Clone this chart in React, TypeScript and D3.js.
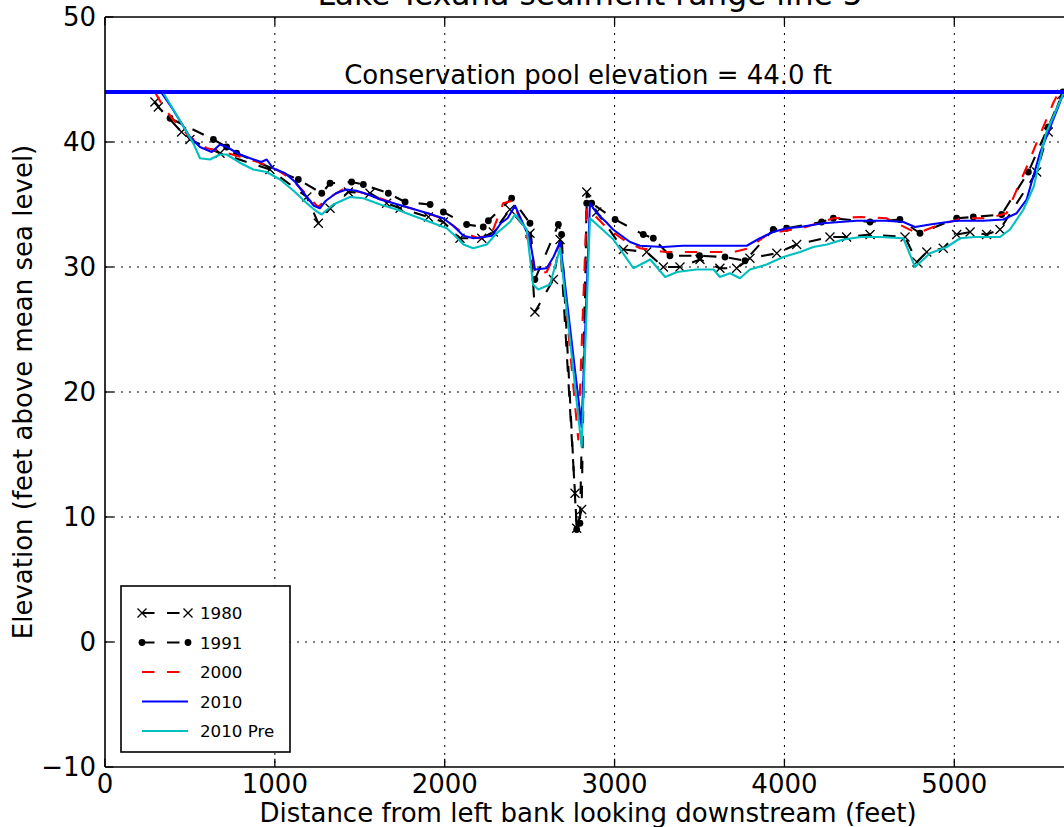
import React from "react";
import * as d3 from "d3";

type Pt = [number, number];

const titleText = "Lake Texana sediment range line 5";
const xLabel = "Distance from left bank looking downstream (feet)";
const yLabel = "Elevation (feet above mean sea level)";
const poolElevation = 44.0;
const poolLabel = "Conservation pool elevation = 44.0 ft";

const xTicks = [0, 1000, 2000, 3000, 4000, 5000];
const yTicks = [-10, 0, 10, 20, 30, 40, 50];

const survey1980: Pt[] = [
  [294, 43.2], [314, 42.8], [451, 40.8], [500, 40.2], [677, 39.1], [971, 37.8], [1188, 35.6],
  [1256, 33.5], [1325, 34.7], [1433, 36.0], [1560, 35.9], [1658, 35.1], [1737, 34.7], [1904, 34.0],
  [1992, 33.6], [2090, 32.3], [2218, 32.3], [2286, 32.8], [2384, 34.6], [2502, 32.7], [2531, 26.4],
  [2640, 29.0], [2679, 32.2], [2767, 11.9], [2777, 9.1], [2806, 10.6], [2836, 36.0], [2895, 34.4],
  [3052, 31.4], [3189, 31.2], [3287, 30.0], [3385, 30.0], [3503, 30.6], [3620, 29.9], [3719, 29.9],
  [3797, 30.7], [3955, 31.1], [4072, 31.8], [4268, 32.4], [4366, 32.4], [4504, 32.6], [4710, 32.4],
  [4780, 30.4], [4838, 31.2], [4935, 31.5], [5014, 32.6], [5093, 32.8], [5190, 32.6], [5269, 33.0],
  [5485, 37.6], [5553, 40.8], [5632, 43.8],
];

const survey1991: Pt[] = [
  [383, 41.9], [638, 40.2], [716, 39.6], [775, 39.1], [1138, 37.0], [1276, 35.9], [1325, 36.7],
  [1452, 36.8], [1521, 36.6], [1668, 35.9], [1767, 35.2], [1914, 35.0], [1992, 34.4], [2129, 33.4],
  [2227, 33.2], [2257, 33.7], [2394, 35.5], [2502, 33.5], [2531, 29.0], [2669, 33.4], [2688, 32.6],
  [2777, 9.0], [2796, 9.5], [2836, 35.1], [2865, 35.1], [3003, 33.8], [3169, 32.6], [3228, 32.3],
  [3326, 30.9], [3500, 30.9], [3650, 30.8], [3768, 30.5], [3934, 33.0], [4013, 33.1], [4219, 33.6],
  [4288, 33.9], [4504, 33.6], [4680, 33.8], [4798, 32.7], [5014, 33.9], [5112, 34.0], [5279, 34.2],
  [5436, 37.6], [5553, 41.2], [5640, 44.0],
];

const survey2000: Pt[] = [
  [294, 44.0], [340, 42.9], [400, 41.8], [500, 40.4], [600, 39.5], [700, 39.2], [800, 38.8],
  [900, 38.4], [1000, 37.9], [1100, 37.0], [1200, 35.6], [1255, 34.8], [1300, 35.4], [1400, 36.2],
  [1500, 36.0], [1600, 35.6], [1700, 35.1], [1800, 34.7], [1900, 34.3], [2000, 33.8], [2100, 32.8],
  [2200, 32.3], [2280, 32.8], [2344, 35.1], [2400, 35.3], [2450, 33.6], [2500, 31.8], [2535, 29.4],
  [2600, 29.6], [2680, 31.9], [2786, 16.2], [2836, 34.7], [2870, 34.3], [2950, 33.2], [3050, 32.2],
  [3150, 31.5], [3300, 31.2], [3500, 31.2], [3700, 31.2], [3790, 31.5], [3900, 32.6], [4000, 32.9],
  [4100, 33.1], [4288, 33.9], [4450, 34.0], [4600, 33.9], [4661, 33.5], [4780, 32.7], [4916, 33.4],
  [5053, 33.9], [5200, 33.9], [5308, 34.3], [5426, 38.0], [5582, 43.1], [5615, 44.0],
];

const survey2010: Pt[] = [
  [330, 44.0], [400, 42.6], [500, 40.4], [559, 39.6], [628, 39.2], [677, 39.8], [716, 39.6],
  [795, 39.0], [854, 38.7], [920, 38.4], [952, 38.6], [989, 37.9], [1060, 37.5], [1120, 36.8],
  [1188, 35.6], [1230, 34.9], [1265, 34.7], [1300, 35.3], [1360, 35.9], [1420, 36.2], [1480, 36.1],
  [1550, 35.8], [1620, 35.4], [1700, 35.1], [1800, 34.7], [1900, 34.3], [1990, 33.9], [2050, 33.3],
  [2110, 32.5], [2170, 32.3], [2230, 32.4], [2280, 32.5], [2330, 33.5], [2370, 33.9], [2414, 34.9],
  [2450, 33.8], [2500, 32.3], [2531, 29.8], [2600, 29.9], [2640, 30.8], [2679, 32.0], [2806, 17.2],
  [2855, 35.1], [2895, 34.3], [2950, 33.6], [2991, 33.0], [3091, 32.0], [3150, 31.7], [3286, 31.6],
  [3400, 31.7], [3580, 31.7], [3778, 31.7], [3856, 32.3], [3933, 32.8], [4013, 33.1], [4092, 33.2],
  [4227, 33.5], [4425, 33.7], [4600, 33.7], [4700, 33.6], [4769, 33.2], [4857, 33.4], [5014, 33.7],
  [5171, 33.7], [5288, 33.8], [5367, 34.3], [5426, 35.4], [5504, 39.1], [5646, 44.0],
];

const survey2010Pre: Pt[] = [
  [340, 44.0], [420, 42.2], [520, 39.9], [559, 38.7], [618, 38.6], [677, 39.0], [716, 39.0],
  [800, 38.3], [873, 37.8], [952, 37.6], [1030, 37.0], [1110, 36.1], [1188, 35.1], [1240, 34.5],
  [1276, 34.2], [1300, 34.5], [1344, 35.0], [1442, 35.6], [1521, 35.5], [1620, 35.0], [1717, 34.6],
  [1814, 34.1], [1914, 33.6], [2012, 33.1], [2060, 32.5], [2110, 31.8], [2168, 31.5], [2247, 31.8],
  [2306, 32.7], [2384, 33.6], [2414, 34.2], [2483, 33.0], [2520, 28.6], [2550, 28.2], [2620, 28.6],
  [2679, 31.5], [2806, 15.6], [2855, 33.9], [2993, 32.2], [3111, 29.9], [3210, 30.6], [3298, 29.2],
  [3368, 29.6], [3480, 29.8], [3583, 29.8], [3620, 29.2], [3680, 29.5], [3738, 29.1], [3797, 29.8],
  [3895, 30.2], [3993, 30.8], [4092, 31.2], [4170, 31.6], [4250, 31.8], [4347, 32.2], [4450, 32.4],
  [4564, 32.4], [4700, 32.3], [4769, 30.0], [4857, 31.1], [4956, 31.6], [5035, 32.3], [5120, 32.4],
  [5210, 32.4], [5269, 32.4], [5328, 33.0], [5407, 34.6], [5467, 36.4], [5540, 40.7], [5646, 44.0],
];

type Series = { name: string; data: Pt[]; color: string; dash?: string; marker?: "x" | "dot" };

const seriesList: Series[] = [
  { name: "1980", data: survey1980, color: "#000000", dash: "12.5,12.5", marker: "x" },
  { name: "1991", data: survey1991, color: "#000000", dash: "12.5,12.5", marker: "dot" },
  { name: "2000", data: survey2000, color: "#ff0000", dash: "12.5,12.5" },
  { name: "2010", data: survey2010, color: "#0000ff" },
  { name: "2010 Pre", data: survey2010Pre, color: "#00bfbf" },
];

const W = 1064;
const H = 827;
const left = 105;
const top = 17;
const bottom = 767;
const right = 1073.2;
const font = "'DejaVu Sans', sans-serif";
const fs = 26;

function Marker({ kind, cx, cy, color }: { kind?: string; cx: number; cy: number; color: string }) {
  if (kind === "x") {
    const s = 4.5;
    return (
      <path
        d={`M${cx - s},${cy - s}L${cx + s},${cy + s}M${cx - s},${cy + s}L${cx + s},${cy - s}`}
        stroke={color}
        strokeWidth={1.3}
        fill="none"
      />
    );
  }
  if (kind === "dot") {
    return <circle cx={cx} cy={cy} r={3.4} fill={color} />;
  }
  return null;
}

export default function App() {
  const x = d3.scaleLinear().domain([0, 5700]).range([left, right]);
  const y = d3.scaleLinear().domain([-10, 50]).range([bottom, top]);
  const line = d3
    .line<Pt>()
    .x((d) => x(d[0]))
    .y((d) => y(d[1]));
  const fmt = d3.format("d");

  const legX = 121;
  const legY = 586;
  const legW = 169;
  const legH = 166;
  const rowY0 = 613;
  const rowStep = 29.5;

  return (
    <svg
      width={W}
      height={H}
      style={{ position: "absolute", left: 0, top: 0, background: "#fff" }}
      fontFamily={font}
    >
      <rect x={0} y={0} width={W} height={H} fill="#fff" />
      <defs>
        <clipPath id="plotclip">
          <rect x={left} y={top} width={right - left} height={bottom - top} />
        </clipPath>
      </defs>

      {/* grid */}
      <g stroke="#000" strokeWidth={1} strokeDasharray="2,6">
        {xTicks.slice(1).map((t) => (
          <line key={"gx" + t} x1={x(t)} x2={x(t)} y1={top} y2={bottom} />
        ))}
        {yTicks.slice(1, -1).map((t) => (
          <line key={"gy" + t} x1={left} x2={right} y1={y(t)} y2={y(t)} />
        ))}
      </g>

      {/* data series */}
      <g clipPath="url(#plotclip)">
        {seriesList.map((s) => (
          <g key={s.name}>
            <path
              d={line(s.data) || ""}
              fill="none"
              stroke={s.color}
              strokeWidth={2.1}
              strokeDasharray={s.dash}
              strokeLinejoin="round"
            />
            {s.marker &&
              s.data.map((d, i) => (
                <Marker key={i} kind={s.marker} cx={x(d[0])} cy={y(d[1])} color={s.color} />
              ))}
          </g>
        ))}
        <line
          x1={left}
          x2={right}
          y1={y(poolElevation)}
          y2={y(poolElevation)}
          stroke="#0000ff"
          strokeWidth={4.2}
        />
      </g>

      <text x={588} y={84} fontSize={fs} textAnchor="middle" fill="#000">
        {poolLabel}
      </text>

      {/* spines */}
      <g stroke="#000" strokeWidth={1.6} fill="none">
        <line x1={left} x2={left} y1={top} y2={bottom} />
        <line x1={left} x2={right} y1={bottom} y2={bottom} />
        <line x1={left} x2={right} y1={top} y2={top} />
        <line x1={right} x2={right} y1={top} y2={bottom} />
      </g>

      {/* ticks */}
      <g stroke="#000" strokeWidth={1.3}>
        {xTicks.map((t) => (
          <g key={"tx" + t}>
            <line x1={x(t)} x2={x(t)} y1={bottom} y2={bottom - 8.3} />
            <line x1={x(t)} x2={x(t)} y1={top} y2={top + 8.3} />
          </g>
        ))}
        {yTicks.map((t) => (
          <line key={"ty" + t} x1={left} x2={left + 8.3} y1={y(t)} y2={y(t)} />
        ))}
      </g>

      {/* tick labels */}
      <g fontSize={fs} fill="#000">
        {xTicks.map((t) => (
          <text key={"lx" + t} x={x(t)} y={793} textAnchor="middle">
            {fmt(t)}
          </text>
        ))}
        {yTicks.map((t) => (
          <text key={"ly" + t} x={96} y={y(t) + 9.4} textAnchor="end">
            {fmt(t)}
          </text>
        ))}
      </g>

      {/* axis labels and title */}
      <text x={588} y={822} fontSize={fs} textAnchor="middle" fill="#000">
        {xLabel}
      </text>
      <text
        transform={`translate(32,${(top + bottom) / 2}) rotate(-90)`}
        fontSize={fs}
        textAnchor="middle"
        fill="#000"
      >
        {yLabel}
      </text>
      <text x={590} y={5} fontSize={31.3} textAnchor="middle" fill="#000">
        {titleText}
      </text>

      {/* legend */}
      <g>
        <rect x={legX} y={legY} width={legW} height={legH} fill="#fff" stroke="#000" strokeWidth={1.6} />
        {seriesList.map((s, i) => {
          const cy = rowY0 + i * rowStep;
          return (
            <g key={"leg" + s.name}>
              <line
                x1={142}
                x2={188}
                y1={cy}
                y2={cy}
                stroke={s.color}
                strokeWidth={2.1}
                strokeDasharray={s.dash}
              />
              {s.marker && (
                <>
                  <Marker kind={s.marker} cx={142} cy={cy} color={s.color} />
                  <Marker kind={s.marker} cx={188} cy={cy} color={s.color} />
                </>
              )}
              <text x={200} y={cy + 6} fontSize={16.7} fill="#000">
                {s.name}
              </text>
            </g>
          );
        })}
      </g>
    </svg>
  );
}
